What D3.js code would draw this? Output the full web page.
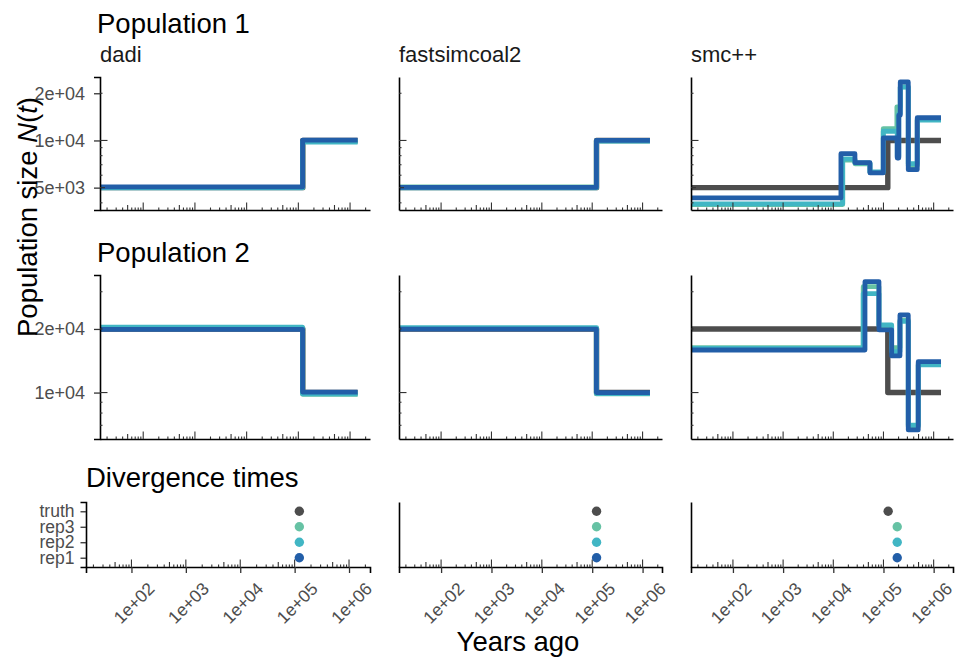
<!DOCTYPE html>
<html>
<head>
<meta charset="utf-8">
<script src="https://cdn.jsdelivr.net/npm/d3@7"></script>
<style>
  body { margin: 0; background: #fff; }
  text { font-family: "Liberation Sans", Arial, Helvetica, sans-serif; }
</style>
</head>
<body>
<svg id="chart" width="956" height="661"></svg>
<script>
// ---------------- data ----------------
const methods = ["dadi", "fastsimcoal2", "smc++"];
const divLevels = ["rep1", "rep2", "rep3", "truth"];
const seriesColors = { truth: "#4d4d4d", rep3: "#66c2a4", rep2: "#41b6c4", rep1: "#225ea8" };

const epochEnd = 1.4e6;          // oldest time shown for every history (years)

// true simulated model: epoch start times and sizes
const truthTimes = [10, 122000];
const truthPop1 = [5000, 10000];
const truthPop2 = [20000, 10000];

// dadi estimates
const dadiTimes = { rep1: [10, 121000], rep2: [10, 120000], rep3: [10, 122000] };
const dadiPop1 = { rep1: [5050, 10050], rep2: [4980, 9750], rep3: [5000, 9850] };
const dadiPop2 = { rep1: [19900, 10050], rep2: [20400, 9850], rep3: [20200, 9800] };

// fastsimcoal2 estimates
const fscTimes = { rep1: [10, 121000], rep2: [10, 122000], rep3: [10, 120000] };
const fscPop1 = { rep1: [5020, 10020], rep2: [4990, 9900], rep3: [5060, 9950] };
const fscPop2 = { rep1: [19950, 10000], rep2: [20300, 9900], rep3: [20100, 9850] };

// smc++ estimates
const smcPop1Times = {
  rep1: [10, 14200, 27000, 53800, 99000, 188000, 202000, 216000, 312000, 471000],
  rep2: [10, 15400, 27000, 53800, 99000, 188000, 202000, 216000, 312000, 471000],
  rep3: [10, 15400, 27000, 53800, 99000, 185000, 202000, 216000, 312000, 471000]
};
const smcPop1 = {
  rep1: [4300, 8240, 7220, 6210, 10370, 7730, 14500, 23600, 6510, 13960],
  rep2: [3940, 7620, 7200, 6300, 11450, 7900, 14800, 21900, 7110, 13470],
  rep3: [3900, 7500, 7100, 6250, 11900, 16400, 16400, 22000, 6900, 13600]
};
const smcPop2Times = {
  rep1: [10, 42800, 81300, 145600, 213000, 312000, 493000],
  rep2: [10, 39500, 81300, 145600, 213000, 312000, 493000],
  rep3: [10, 39500, 81300, 145600, 213000, 312000, 493000]
};
const smcPop2 = {
  rep1: [15900, 33500, 19800, 14900, 23300, 6660, 14000],
  rep2: [16200, 29400, 20900, 15600, 21700, 7010, 13520],
  rep3: [16300, 31700, 20700, 16300, 22000, 6900, 13700]
};

// divergence time estimates (years), in divLevels order
const dadiDiv = [122000, 122000, 122000, 122000];
const fscDiv = [122000, 122000, 122000, 122000];
const smcDiv = [188000, 188000, 188000, 124000];

// axis limits and breaks
const xLimits = [14.6, 2.43e6];
const xBreaks = [1e2, 1e3, 1e4, 1e5, 1e6];
const pop1Limits = [3600, 25400];
const pop1Breaks = [5e3, 1e4, 2e4];
const pop2Limits = [6030, 36000];
const pop2Breaks = [1e4, 2e4];

// ---------------- assemble histories ----------------
function history(times, sizes) {
  const pts = times.map((t, i) => ({ t, n: sizes[i] }));
  pts.push({ t: epochEnd, n: sizes[sizes.length - 1] });
  return pts;
}
function methodHistories(times, values) {
  return ["rep3", "rep2", "rep1"].map(k => ({ key: k, pts: history(times[k], values[k]) }));
}
const pop1Data = {
  "dadi": [{ key: "truth", pts: history(truthTimes, truthPop1) }, ...methodHistories(dadiTimes, dadiPop1)],
  "fastsimcoal2": [{ key: "truth", pts: history(truthTimes, truthPop1) }, ...methodHistories(fscTimes, fscPop1)],
  "smc++": [{ key: "truth", pts: history(truthTimes, truthPop1) }, ...methodHistories(smcPop1Times, smcPop1)]
};
const pop2Data = {
  "dadi": [{ key: "truth", pts: history(truthTimes, truthPop2) }, ...methodHistories(dadiTimes, dadiPop2)],
  "fastsimcoal2": [{ key: "truth", pts: history(truthTimes, truthPop2) }, ...methodHistories(fscTimes, fscPop2)],
  "smc++": [{ key: "truth", pts: history(truthTimes, truthPop2) }, ...methodHistories(smcPop2Times, smcPop2)]
};
const divData = { "dadi": dadiDiv, "fastsimcoal2": fscDiv, "smc++": smcDiv };

// ---------------- layout ----------------
const svg = d3.select("#chart");
const colX = [[100, 370], [399, 662], [691, 953]];
const colXDiv = [[86, 370], [399, 662], [691, 953]];
const labelShift = [2, 2, -2.5];   // horizontal nudge of the slanted year labels per column
const rowPop1 = [77, 210];
const rowPop2 = [275, 439];
const rowDiv = [502, 567];
const tickColor = "#333333";
const labelColor = "#4d4d4d";
const sciFormat = v => {
  const e = Math.floor(Math.log10(v) + 1e-9);
  const m = Math.round(v / Math.pow(10, e));
  return m + "e+" + String(e).padStart(2, "0");
};

let clipId = 0;

// log-scale tick marks drawn inside the panel (long at 10^k, mid at 5*10^k)
function logTicks(g, scale, orient, x0, y0) {
  const [lo, hi] = scale.domain();
  const vals = [];
  for (let k = Math.floor(Math.log10(lo)); k <= Math.ceil(Math.log10(hi)); k++) {
    for (let m = 1; m <= 9; m++) {
      const v = m * Math.pow(10, k);
      if (v >= lo && v <= hi) vals.push({ v, len: m === 1 ? 7.5 : (m === 5 ? 5 : 2.5) });
    }
  }
  g.selectAll(null).data(vals).join("line")
    .attr("x1", d => orient === "x" ? scale(d.v) : x0)
    .attr("x2", d => orient === "x" ? scale(d.v) : x0 + d.len)
    .attr("y1", d => orient === "x" ? y0 : scale(d.v))
    .attr("y2", d => orient === "x" ? y0 - d.len : scale(d.v))
    .attr("stroke", tickColor).attr("stroke-width", 1.1);
}

function styleAxis(a) {
  a.select(".domain").attr("stroke", "#000").attr("stroke-width", 1.6);
  a.selectAll(".tick line").attr("stroke", tickColor).attr("stroke-width", 1.3);
  a.selectAll("text").style("font-family", '"Liberation Sans", Arial, sans-serif');
}

function sizePanel(col, row, yLimits, yBreaks, data) {
  const [xl, xr] = colX[col];
  const [yt, yb] = row;
  const x = d3.scaleLog().domain(xLimits).range([xl, xr]);
  const y = d3.scaleLog().domain(yLimits).range([yb, yt]);
  const g = svg.append("g");
  const id = "clip" + (clipId++);
  g.append("clipPath").attr("id", id).append("rect")
    .attr("x", xl).attr("y", yt).attr("width", xr - xl).attr("height", yb - yt);

  const line = d3.line().x(d => x(d.t)).y(d => y(d.n)).curve(d3.curveStepAfter);
  const lines = g.append("g").attr("clip-path", `url(#${id})`);
  lines.selectAll("path").data(data).join("path")
    .attr("d", d => line(d.pts))
    .attr("fill", "none")
    .attr("stroke", d => seriesColors[d.key])
    .attr("stroke-width", d => d.key === "truth" ? 5.4 : 4.8)
    .attr("stroke-linejoin", "round")
    .attr("stroke-linecap", "butt");

  const yAxis = d3.axisLeft(y).tickValues(yBreaks).tickSizeOuter(0)
    .tickSize(col === 0 ? 6 : 0).tickPadding(9).tickFormat(col === 0 ? sciFormat : () => "");
  const ya = g.append("g").attr("transform", `translate(${xl},0)`).call(yAxis);
  const xa = g.append("g").attr("transform", `translate(0,${yb})`)
    .call(d3.axisBottom(x).tickValues([]).tickSizeOuter(0));
  styleAxis(ya); styleAxis(xa);
  ya.selectAll("text").attr("font-size", 18).attr("fill", labelColor);

  logTicks(g, x, "x", 0, yb);
  logTicks(g, y, "y", xl, 0);
}

function divPanel(col, values) {
  const [xl, xr] = colXDiv[col];
  const [yt, yb] = rowDiv;
  const x = d3.scaleLog().domain(xLimits).range([xl, xr]);
  const y = d3.scalePoint().domain(divLevels).range([yb, yt]).padding(0.6);
  const g = svg.append("g");

  const ya = g.append("g").attr("transform", `translate(${xl},0)`)
    .call(d3.axisLeft(y).tickSizeOuter(0).tickSize(col === 0 ? 5.5 : 0).tickPadding(6)
      .tickFormat(col === 0 ? d => d : () => ""));
  const xa = g.append("g").attr("transform", `translate(0,${yb})`)
    .call(d3.axisBottom(x).tickValues(xBreaks).tickSizeOuter(0).tickSize(6).tickFormat(sciFormat));
  styleAxis(ya); styleAxis(xa);
  ya.selectAll("text").attr("font-size", 17.5).attr("fill", labelColor);
  xa.selectAll(".tick text")
    .attr("font-size", 17.5).attr("fill", labelColor)
    .attr("text-anchor", "middle").attr("y", 0).attr("dy", "0.35em")
    .attr("transform", `translate(${labelShift[col]},36) rotate(-45)`);

  logTicks(g, x, "x", 0, yb);

  g.selectAll("circle").data(divLevels.map((k, i) => ({ k, v: values[i] })))
    .join("circle")
    .attr("cx", d => x(d.v)).attr("cy", d => y(d.k)).attr("r", 4.7)
    .attr("fill", d => seriesColors[d.k]);
}

methods.forEach((m, i) => {
  sizePanel(i, rowPop1, pop1Limits, pop1Breaks, pop1Data[m]);
  sizePanel(i, rowPop2, pop2Limits, pop2Breaks, pop2Data[m]);
  divPanel(i, divData[m]);
  svg.append("text").attr("x", colX[i][0]).attr("y", 62)
    .attr("font-size", 22).attr("fill", "#1a1a1a").text(m);
});

// titles
const titleStyle = t => t.attr("font-size", 27.5).attr("fill", "#000");
svg.append("text").attr("x", 97).attr("y", 33).text("Population 1").call(titleStyle);
svg.append("text").attr("x", 97).attr("y", 262).text("Population 2").call(titleStyle);
svg.append("text").attr("x", 86).attr("y", 487).text("Divergence times").call(titleStyle);

svg.append("text").attr("x", 518).attr("y", 651).attr("text-anchor", "middle")
  .text("Years ago").call(titleStyle);

const yTitle = svg.append("text").attr("transform", "translate(37,217) rotate(-90)")
  .attr("text-anchor", "middle").call(titleStyle);
yTitle.append("tspan").text("Population size ");
yTitle.append("tspan").attr("font-style", "italic").text("N");
yTitle.append("tspan").text("(");
yTitle.append("tspan").attr("font-style", "italic").text("t");
yTitle.append("tspan").text(")");
</script>
</body>
</html>
